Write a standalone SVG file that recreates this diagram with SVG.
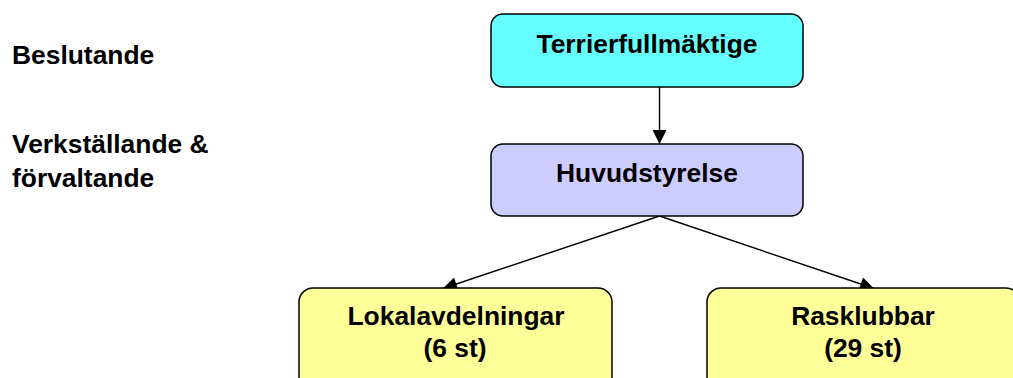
<svg xmlns="http://www.w3.org/2000/svg" width="1013" height="378" viewBox="0 0 1013 378">
<style>
text{font-family:"Liberation Sans",Arial,sans-serif;font-weight:bold;font-size:26.4px;fill:#000}
.c{text-anchor:middle}
.box{stroke:#000;stroke-width:1.5}
.conn{stroke:#000;stroke-width:1.4;fill:none;marker-end:url(#ah)}
</style>
<defs>
<marker id="ah" viewBox="0 0 10 10" refX="10" refY="5" markerWidth="15" markerHeight="14" markerUnits="userSpaceOnUse" orient="auto">
<path d="M0,0 L10,5 L0,10 Z" fill="#000"/>
</marker>
</defs>
<rect width="1013" height="378" fill="#fff"/>
<g id="labels">
<text x="12" y="64">Beslutande</text>
<text x="12" y="153">Verkställande &amp;</text>
<text x="12" y="187">förvaltande</text>
</g>
<g id="connectors">
<line class="conn" x1="659.5" y1="87" x2="659.5" y2="144"/>
<line class="conn" x1="659.5" y1="216" x2="443" y2="288.5"/>
<line class="conn" x1="659.5" y1="216" x2="874" y2="288.5"/>
</g>
<g id="terrierfullmaktige">
<rect class="box" x="491" y="14" width="312" height="73" rx="12" fill="#66FFFF"/>
<text class="c" x="647" y="53">Terrierfullmäktige</text>
</g>
<g id="huvudstyrelse">
<rect class="box" x="491" y="144" width="312" height="72" rx="12" fill="#CCCCFF"/>
<text class="c" x="647" y="182">Huvudstyrelse</text>
</g>
<g id="lokalavdelningar">
<rect class="box" x="299" y="288" width="313" height="110" rx="14" fill="#FFFF99"/>
<text class="c" x="456" y="325">Lokalavdelningar</text>
<text class="c" x="455" y="357">(6 st)</text>
</g>
<g id="rasklubbar">
<rect class="box" x="707" y="288" width="313" height="110" rx="14" fill="#FFFF99"/>
<text class="c" x="863" y="325">Rasklubbar</text>
<text class="c" x="863" y="357">(29 st)</text>
</g>
</svg>
